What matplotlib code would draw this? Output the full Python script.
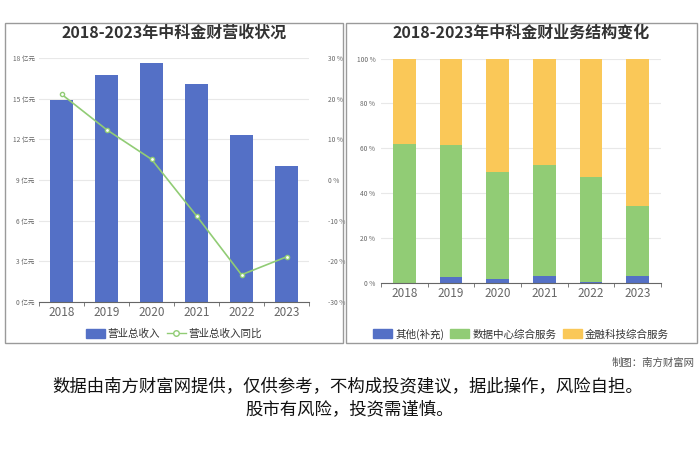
import matplotlib
matplotlib.use("Agg")
import matplotlib.pyplot as plt
from matplotlib.patches import Rectangle, FancyBboxPatch
from matplotlib.lines import Line2D
import numpy as np

plt.rcParams['font.family'] = ['Noto Sans CJK SC', 'DejaVu Sans']

years = ['2018', '2019', '2020', '2021', '2022', '2023']
revenue = [14.9, 16.75, 17.6, 16.05, 12.3, 10.0]          # 亿元
revenue_yoy = [21.1, 12.4, 5.1, -8.8, -23.3, -18.9]        # %
share_other = [0.0, 2.7, 1.7, 3.1, 0.5, 3.0]               # %
share_datacenter = [61.8, 58.8, 47.7, 49.4, 46.8, 31.4]    # %
share_fintech = [38.2, 38.5, 50.6, 47.5, 52.7, 65.6]       # %

blue = '#5470c6'
green = '#91cc75'
yellow = '#fac858'
grid_c = '#e8e8e8'
tick_c = '#666666'

W, H = 700, 467
fig = plt.figure(figsize=(7, 4.67), dpi=100)


def px_box(x0, y0, x1, y1):
    # pixel box (top-left origin) -> figure fraction rect
    return [x0 / W, (H - y1) / H, (x1 - x0) / W, (y1 - y0) / H]


# panel frames
for x0, x1 in [(5, 343), (346, 697)]:
    fig.patches.append(Rectangle((x0 / W, (H - 343) / H), (x1 - x0) / W, 320 / H,
                                 transform=fig.transFigure, fill=False,
                                 edgecolor='#9a9a9a', lw=1.0, zorder=0))

# ---------- left chart ----------
ax = fig.add_axes(px_box(39, 58, 309, 302))
x = np.arange(len(years))
ax.bar(x, revenue, width=0.51, color=blue, zorder=2)
ax.set_xlim(-0.5, len(years) - 0.5)
ax.set_ylim(0, 18)
ax.set_yticks(np.arange(0, 19, 3))
ax.set_yticklabels([f'{v} 亿元' for v in range(0, 19, 3)], fontsize=4.8, color=tick_c)
ax.yaxis.grid(True, color=grid_c, lw=0.8, zorder=0)
ax.set_xticks(x)
ax.set_xticklabels(years, fontsize=8.5, color=tick_c)
ax.set_xticks(np.arange(-0.5, len(years)), minor=True)
ax.tick_params(axis='x', which='major', length=0, pad=3)
ax.tick_params(axis='x', which='minor', length=3, color=tick_c)
ax.tick_params(axis='y', length=0, pad=3)
for s in ['top', 'right', 'left']:
    ax.spines[s].set_visible(False)
ax.spines['bottom'].set_color(tick_c)
ax.spines['bottom'].set_linewidth(0.8)

ax2 = ax.twinx()
ax2.plot(x, revenue_yoy, color=green, lw=1.2, marker='o', ms=3,
         markerfacecolor='white', markeredgecolor=green, markeredgewidth=1, zorder=3)
ax2.set_ylim(-30, 30)
ax2.set_yticks(np.arange(-30, 31, 10))
ax2.set_yticklabels([f'{v} %' for v in range(-30, 31, 10)], fontsize=4.8, color=tick_c)
ax2.tick_params(axis='y', length=0, pad=14)
for s in ax2.spines.values():
    s.set_visible(False)

fig.text(174 / W, 1 - 33 / H, '2018-2023年中科金财营收状况', ha='center', va='center',
         fontsize=11.5, fontweight='bold', color='#333333')

h1 = FancyBboxPatch((0, 0), 1, 1, boxstyle='round,pad=0.1', color=blue)
h2 = Line2D([], [], color=green, lw=1, marker='o', ms=4, markerfacecolor='white',
            markeredgecolor=green)
fig.legend([h1, h2], ['营业总收入', '营业总收入同比'], loc='center',
           bbox_to_anchor=(174 / W, 1 - 334 / H), ncol=2, frameon=False, fontsize=7.6,
           handlelength=1.8, handleheight=0.9, columnspacing=0.6, handletextpad=0.3,
           labelcolor='#333333')

# ---------- right chart ----------
bx = fig.add_axes(px_box(381, 58.7, 661, 282.7))
bot2 = np.array(share_other) + np.array(share_datacenter)
bx.bar(x, share_other, width=0.49, color=blue, zorder=2)
bx.bar(x, share_datacenter, width=0.49, bottom=share_other, color=green, zorder=2)
bx.bar(x, share_fintech, width=0.49, bottom=bot2, color=yellow, zorder=2)
bx.set_xlim(-0.5, len(years) - 0.5)
bx.set_ylim(0, 100)
bx.set_yticks(np.arange(0, 101, 20))
bx.set_yticklabels([f'{v} %' for v in range(0, 101, 20)], fontsize=4.8, color=tick_c)
bx.yaxis.grid(True, color=grid_c, lw=0.8, zorder=0)
bx.set_xticks(x)
bx.set_xticklabels(years, fontsize=8.5, color=tick_c)
bx.set_xticks(np.arange(-0.5, len(years)), minor=True)
bx.tick_params(axis='x', which='major', length=0, pad=3)
bx.tick_params(axis='x', which='minor', length=3, color=tick_c)
bx.tick_params(axis='y', length=0, pad=4)
for s in ['top', 'right', 'left']:
    bx.spines[s].set_visible(False)
bx.spines['bottom'].set_color(tick_c)
bx.spines['bottom'].set_linewidth(0.8)

fig.text(521 / W, 1 - 33 / H, '2018-2023年中科金财业务结构变化', ha='center', va='center',
         fontsize=11.5, fontweight='bold', color='#333333')

hs = [FancyBboxPatch((0, 0), 1, 1, boxstyle='round,pad=0.1', color=c) for c in (blue, green, yellow)]
fig.legend(hs, ['其他(补充)', '数据中心综合服务', '金融科技综合服务'], loc='center',
           bbox_to_anchor=(521 / W, 1 - 334 / H), ncol=3, frameon=False, fontsize=7.6,
           handlelength=1.8, handleheight=0.9, columnspacing=0.6, handletextpad=0.3,
           labelcolor='#333333')

# ---------- footer ----------
fig.text(695 / W, 1 - 363 / H, '制图：南方财富网', ha='right', va='center',
         fontsize=7.5, color='#555555')
fig.text(348 / W, 1 - 386 / H, '数据由南方财富网提供，仅供参考，不构成投资建议，据此操作，风险自担。',
         ha='center', va='center', fontsize=12.5, color='#111111')
fig.text(350 / W, 1 - 409 / H, '股市有风险，投资需谨慎。',
         ha='center', va='center', fontsize=12.5, color='#111111')

fig.savefig('out.png', dpi=100)
